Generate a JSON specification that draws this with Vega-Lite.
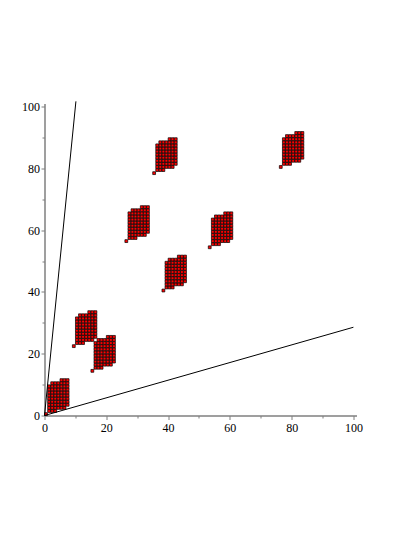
{
"$schema": "https://vega.github.io/schema/vega-lite/v6.json",
"width": 312, "height": 312,
"autosize": "none",
"padding": {"left": 44.5, "top": 103.5, "right": 58.5, "bottom": 121.5},
"config": {"view": {"stroke": null}, "axis": {"labelFont": "Liberation Serif", "labelFontSize": 12, "labelColor": "#000000", "grid": false, "domainColor": "#7f7f7f", "tickColor": "#7f7f7f", "title": null}},
"resolve": {"axis": {"x": "independent", "y": "independent"}},
"layer": [
{"data": {"values": [
{"x":0,"y":0},
{"x":1,"y":1},{"x":1,"y":2},{"x":1,"y":3},{"x":1,"y":4},{"x":1,"y":5},{"x":1,"y":6},{"x":1,"y":7},{"x":1,"y":8},{"x":1,"y":9},
{"x":2,"y":1},{"x":2,"y":2},{"x":2,"y":3},{"x":2,"y":4},{"x":2,"y":5},{"x":2,"y":6},{"x":2,"y":7},{"x":2,"y":8},{"x":2,"y":9},{"x":2,"y":10},
{"x":3,"y":1},{"x":3,"y":2},{"x":3,"y":3},{"x":3,"y":4},{"x":3,"y":5},{"x":3,"y":6},{"x":3,"y":7},{"x":3,"y":8},{"x":3,"y":9},{"x":3,"y":10},
{"x":4,"y":2},{"x":4,"y":3},{"x":4,"y":4},{"x":4,"y":5},{"x":4,"y":6},{"x":4,"y":7},{"x":4,"y":8},{"x":4,"y":9},{"x":4,"y":10},
{"x":5,"y":2},{"x":5,"y":3},{"x":5,"y":4},{"x":5,"y":5},{"x":5,"y":6},{"x":5,"y":7},{"x":5,"y":8},{"x":5,"y":9},{"x":5,"y":10},{"x":5,"y":11},
{"x":6,"y":2},{"x":6,"y":3},{"x":6,"y":4},{"x":6,"y":5},{"x":6,"y":6},{"x":6,"y":7},{"x":6,"y":8},{"x":6,"y":9},{"x":6,"y":10},{"x":6,"y":11},
{"x":7,"y":3},{"x":7,"y":4},{"x":7,"y":5},{"x":7,"y":6},{"x":7,"y":7},{"x":7,"y":8},{"x":7,"y":9},{"x":7,"y":10},{"x":7,"y":11},
{"x":9,"y":22},
{"x":10,"y":23},{"x":10,"y":24},{"x":10,"y":25},{"x":10,"y":26},{"x":10,"y":27},{"x":10,"y":28},{"x":10,"y":29},{"x":10,"y":30},{"x":10,"y":31},
{"x":11,"y":23},{"x":11,"y":24},{"x":11,"y":25},{"x":11,"y":26},{"x":11,"y":27},{"x":11,"y":28},{"x":11,"y":29},{"x":11,"y":30},{"x":11,"y":31},{"x":11,"y":32},
{"x":12,"y":23},{"x":12,"y":24},{"x":12,"y":25},{"x":12,"y":26},{"x":12,"y":27},{"x":12,"y":28},{"x":12,"y":29},{"x":12,"y":30},{"x":12,"y":31},{"x":12,"y":32},
{"x":13,"y":24},{"x":13,"y":25},{"x":13,"y":26},{"x":13,"y":27},{"x":13,"y":28},{"x":13,"y":29},{"x":13,"y":30},{"x":13,"y":31},{"x":13,"y":32},
{"x":14,"y":24},{"x":14,"y":25},{"x":14,"y":26},{"x":14,"y":27},{"x":14,"y":28},{"x":14,"y":29},{"x":14,"y":30},{"x":14,"y":31},{"x":14,"y":32},{"x":14,"y":33},
{"x":15,"y":24},{"x":15,"y":25},{"x":15,"y":26},{"x":15,"y":27},{"x":15,"y":28},{"x":15,"y":29},{"x":15,"y":30},{"x":15,"y":31},{"x":15,"y":32},{"x":15,"y":33},
{"x":16,"y":25},{"x":16,"y":26},{"x":16,"y":27},{"x":16,"y":28},{"x":16,"y":29},{"x":16,"y":30},{"x":16,"y":31},{"x":16,"y":32},{"x":16,"y":33},
{"x":15,"y":14},
{"x":16,"y":15},{"x":16,"y":16},{"x":16,"y":17},{"x":16,"y":18},{"x":16,"y":19},{"x":16,"y":20},{"x":16,"y":21},{"x":16,"y":22},{"x":16,"y":23},
{"x":17,"y":15},{"x":17,"y":16},{"x":17,"y":17},{"x":17,"y":18},{"x":17,"y":19},{"x":17,"y":20},{"x":17,"y":21},{"x":17,"y":22},{"x":17,"y":23},{"x":17,"y":24},
{"x":18,"y":15},{"x":18,"y":16},{"x":18,"y":17},{"x":18,"y":18},{"x":18,"y":19},{"x":18,"y":20},{"x":18,"y":21},{"x":18,"y":22},{"x":18,"y":23},{"x":18,"y":24},
{"x":19,"y":16},{"x":19,"y":17},{"x":19,"y":18},{"x":19,"y":19},{"x":19,"y":20},{"x":19,"y":21},{"x":19,"y":22},{"x":19,"y":23},{"x":19,"y":24},
{"x":20,"y":16},{"x":20,"y":17},{"x":20,"y":18},{"x":20,"y":19},{"x":20,"y":20},{"x":20,"y":21},{"x":20,"y":22},{"x":20,"y":23},{"x":20,"y":24},{"x":20,"y":25},
{"x":21,"y":16},{"x":21,"y":17},{"x":21,"y":18},{"x":21,"y":19},{"x":21,"y":20},{"x":21,"y":21},{"x":21,"y":22},{"x":21,"y":23},{"x":21,"y":24},{"x":21,"y":25},
{"x":22,"y":17},{"x":22,"y":18},{"x":22,"y":19},{"x":22,"y":20},{"x":22,"y":21},{"x":22,"y":22},{"x":22,"y":23},{"x":22,"y":24},{"x":22,"y":25},
{"x":26,"y":56},
{"x":27,"y":57},{"x":27,"y":58},{"x":27,"y":59},{"x":27,"y":60},{"x":27,"y":61},{"x":27,"y":62},{"x":27,"y":63},{"x":27,"y":64},{"x":27,"y":65},
{"x":28,"y":57},{"x":28,"y":58},{"x":28,"y":59},{"x":28,"y":60},{"x":28,"y":61},{"x":28,"y":62},{"x":28,"y":63},{"x":28,"y":64},{"x":28,"y":65},{"x":28,"y":66},
{"x":29,"y":57},{"x":29,"y":58},{"x":29,"y":59},{"x":29,"y":60},{"x":29,"y":61},{"x":29,"y":62},{"x":29,"y":63},{"x":29,"y":64},{"x":29,"y":65},{"x":29,"y":66},
{"x":30,"y":58},{"x":30,"y":59},{"x":30,"y":60},{"x":30,"y":61},{"x":30,"y":62},{"x":30,"y":63},{"x":30,"y":64},{"x":30,"y":65},{"x":30,"y":66},
{"x":31,"y":58},{"x":31,"y":59},{"x":31,"y":60},{"x":31,"y":61},{"x":31,"y":62},{"x":31,"y":63},{"x":31,"y":64},{"x":31,"y":65},{"x":31,"y":66},{"x":31,"y":67},
{"x":32,"y":58},{"x":32,"y":59},{"x":32,"y":60},{"x":32,"y":61},{"x":32,"y":62},{"x":32,"y":63},{"x":32,"y":64},{"x":32,"y":65},{"x":32,"y":66},{"x":32,"y":67},
{"x":33,"y":59},{"x":33,"y":60},{"x":33,"y":61},{"x":33,"y":62},{"x":33,"y":63},{"x":33,"y":64},{"x":33,"y":65},{"x":33,"y":66},{"x":33,"y":67},
{"x":35,"y":78},
{"x":36,"y":79},{"x":36,"y":80},{"x":36,"y":81},{"x":36,"y":82},{"x":36,"y":83},{"x":36,"y":84},{"x":36,"y":85},{"x":36,"y":86},{"x":36,"y":87},
{"x":37,"y":79},{"x":37,"y":80},{"x":37,"y":81},{"x":37,"y":82},{"x":37,"y":83},{"x":37,"y":84},{"x":37,"y":85},{"x":37,"y":86},{"x":37,"y":87},{"x":37,"y":88},
{"x":38,"y":79},{"x":38,"y":80},{"x":38,"y":81},{"x":38,"y":82},{"x":38,"y":83},{"x":38,"y":84},{"x":38,"y":85},{"x":38,"y":86},{"x":38,"y":87},{"x":38,"y":88},
{"x":39,"y":80},{"x":39,"y":81},{"x":39,"y":82},{"x":39,"y":83},{"x":39,"y":84},{"x":39,"y":85},{"x":39,"y":86},{"x":39,"y":87},{"x":39,"y":88},
{"x":40,"y":80},{"x":40,"y":81},{"x":40,"y":82},{"x":40,"y":83},{"x":40,"y":84},{"x":40,"y":85},{"x":40,"y":86},{"x":40,"y":87},{"x":40,"y":88},{"x":40,"y":89},
{"x":41,"y":80},{"x":41,"y":81},{"x":41,"y":82},{"x":41,"y":83},{"x":41,"y":84},{"x":41,"y":85},{"x":41,"y":86},{"x":41,"y":87},{"x":41,"y":88},{"x":41,"y":89},
{"x":42,"y":81},{"x":42,"y":82},{"x":42,"y":83},{"x":42,"y":84},{"x":42,"y":85},{"x":42,"y":86},{"x":42,"y":87},{"x":42,"y":88},{"x":42,"y":89},
{"x":38,"y":40},
{"x":39,"y":41},{"x":39,"y":42},{"x":39,"y":43},{"x":39,"y":44},{"x":39,"y":45},{"x":39,"y":46},{"x":39,"y":47},{"x":39,"y":48},{"x":39,"y":49},
{"x":40,"y":41},{"x":40,"y":42},{"x":40,"y":43},{"x":40,"y":44},{"x":40,"y":45},{"x":40,"y":46},{"x":40,"y":47},{"x":40,"y":48},{"x":40,"y":49},{"x":40,"y":50},
{"x":41,"y":41},{"x":41,"y":42},{"x":41,"y":43},{"x":41,"y":44},{"x":41,"y":45},{"x":41,"y":46},{"x":41,"y":47},{"x":41,"y":48},{"x":41,"y":49},{"x":41,"y":50},
{"x":42,"y":42},{"x":42,"y":43},{"x":42,"y":44},{"x":42,"y":45},{"x":42,"y":46},{"x":42,"y":47},{"x":42,"y":48},{"x":42,"y":49},{"x":42,"y":50},
{"x":43,"y":42},{"x":43,"y":43},{"x":43,"y":44},{"x":43,"y":45},{"x":43,"y":46},{"x":43,"y":47},{"x":43,"y":48},{"x":43,"y":49},{"x":43,"y":50},{"x":43,"y":51},
{"x":44,"y":42},{"x":44,"y":43},{"x":44,"y":44},{"x":44,"y":45},{"x":44,"y":46},{"x":44,"y":47},{"x":44,"y":48},{"x":44,"y":49},{"x":44,"y":50},{"x":44,"y":51},
{"x":45,"y":43},{"x":45,"y":44},{"x":45,"y":45},{"x":45,"y":46},{"x":45,"y":47},{"x":45,"y":48},{"x":45,"y":49},{"x":45,"y":50},{"x":45,"y":51},
{"x":53,"y":54},
{"x":54,"y":55},{"x":54,"y":56},{"x":54,"y":57},{"x":54,"y":58},{"x":54,"y":59},{"x":54,"y":60},{"x":54,"y":61},{"x":54,"y":62},{"x":54,"y":63},
{"x":55,"y":55},{"x":55,"y":56},{"x":55,"y":57},{"x":55,"y":58},{"x":55,"y":59},{"x":55,"y":60},{"x":55,"y":61},{"x":55,"y":62},{"x":55,"y":63},{"x":55,"y":64},
{"x":56,"y":55},{"x":56,"y":56},{"x":56,"y":57},{"x":56,"y":58},{"x":56,"y":59},{"x":56,"y":60},{"x":56,"y":61},{"x":56,"y":62},{"x":56,"y":63},{"x":56,"y":64},
{"x":57,"y":56},{"x":57,"y":57},{"x":57,"y":58},{"x":57,"y":59},{"x":57,"y":60},{"x":57,"y":61},{"x":57,"y":62},{"x":57,"y":63},{"x":57,"y":64},
{"x":58,"y":56},{"x":58,"y":57},{"x":58,"y":58},{"x":58,"y":59},{"x":58,"y":60},{"x":58,"y":61},{"x":58,"y":62},{"x":58,"y":63},{"x":58,"y":64},{"x":58,"y":65},
{"x":59,"y":56},{"x":59,"y":57},{"x":59,"y":58},{"x":59,"y":59},{"x":59,"y":60},{"x":59,"y":61},{"x":59,"y":62},{"x":59,"y":63},{"x":59,"y":64},{"x":59,"y":65},
{"x":60,"y":57},{"x":60,"y":58},{"x":60,"y":59},{"x":60,"y":60},{"x":60,"y":61},{"x":60,"y":62},{"x":60,"y":63},{"x":60,"y":64},{"x":60,"y":65},
{"x":76,"y":80},
{"x":77,"y":81},{"x":77,"y":82},{"x":77,"y":83},{"x":77,"y":84},{"x":77,"y":85},{"x":77,"y":86},{"x":77,"y":87},{"x":77,"y":88},{"x":77,"y":89},
{"x":78,"y":81},{"x":78,"y":82},{"x":78,"y":83},{"x":78,"y":84},{"x":78,"y":85},{"x":78,"y":86},{"x":78,"y":87},{"x":78,"y":88},{"x":78,"y":89},{"x":78,"y":90},
{"x":79,"y":81},{"x":79,"y":82},{"x":79,"y":83},{"x":79,"y":84},{"x":79,"y":85},{"x":79,"y":86},{"x":79,"y":87},{"x":79,"y":88},{"x":79,"y":89},{"x":79,"y":90},
{"x":80,"y":82},{"x":80,"y":83},{"x":80,"y":84},{"x":80,"y":85},{"x":80,"y":86},{"x":80,"y":87},{"x":80,"y":88},{"x":80,"y":89},{"x":80,"y":90},
{"x":81,"y":82},{"x":81,"y":83},{"x":81,"y":84},{"x":81,"y":85},{"x":81,"y":86},{"x":81,"y":87},{"x":81,"y":88},{"x":81,"y":89},{"x":81,"y":90},{"x":81,"y":91},
{"x":82,"y":82},{"x":82,"y":83},{"x":82,"y":84},{"x":82,"y":85},{"x":82,"y":86},{"x":82,"y":87},{"x":82,"y":88},{"x":82,"y":89},{"x":82,"y":90},{"x":82,"y":91},
{"x":83,"y":83},{"x":83,"y":84},{"x":83,"y":85},{"x":83,"y":86},{"x":83,"y":87},{"x":83,"y":88},{"x":83,"y":89},{"x":83,"y":90},{"x":83,"y":91}
]},
"mark": {"type": "square", "size": 8, "filled": true, "color": "#ff0000", "stroke": "#000000", "strokeWidth": 0.7, "opacity": 1, "xOffset": 1.5, "yOffset": -1.4},
"encoding": {
"x": {"field": "x", "type": "quantitative", "scale": {"domain": [0, 101], "nice": false, "zero": true}, "axis": {"orient": "bottom", "values": [0, 20, 40, 60, 80, 100], "tickSize": 4, "labelPadding": 3, "domainWidth": 1.5, "tickWidth": 1, "labelFlush": false, "labelOverlap": false}},
"y": {"field": "y", "type": "quantitative", "scale": {"domain": [0, 101], "nice": false, "zero": true}, "axis": {"orient": "left", "values": [0, 20, 40, 60, 80, 100], "tickSize": 3.5, "labelPadding": 1.5, "domainWidth": 1.5, "tickWidth": 1, "labelFlush": false, "labelOverlap": false}}
}},
{"data": {"values": [
{"line": "steep", "x": 0, "y": 0}, {"line": "steep", "x": 10.17, "y": 101.7},
{"line": "shallow", "x": 0, "y": 0}, {"line": "shallow", "x": 100, "y": 28.57}
]},
"mark": {"type": "line", "color": "#000000", "strokeWidth": 1},
"encoding": {
"x": {"field": "x", "type": "quantitative", "scale": {"domain": [0, 101], "nice": false, "zero": true}, "axis": {"orient": "bottom", "values": [10, 30, 50, 70, 90], "labels": false, "domain": false, "tickSize": 2.5, "tickWidth": 1}},
"y": {"field": "y", "type": "quantitative", "scale": {"domain": [0, 101], "nice": false, "zero": true}, "axis": {"orient": "left", "values": [10, 30, 50, 70, 90], "labels": false, "domain": false, "tickSize": 2.5, "tickWidth": 1}},
"detail": {"field": "line", "type": "nominal"}
}}
]
}
